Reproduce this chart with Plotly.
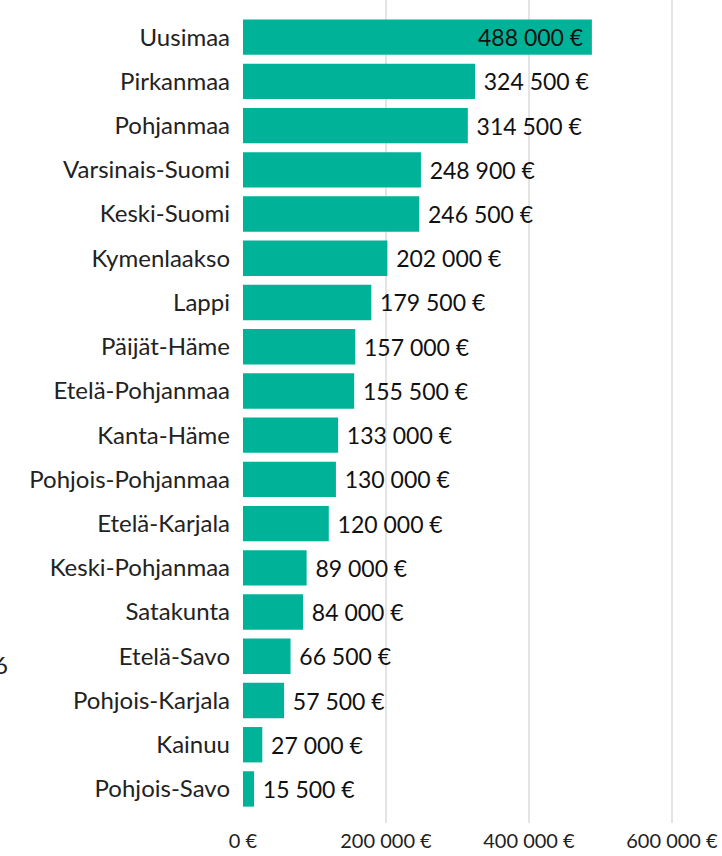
"""Regional amounts, horizontal bar chart."""

import plotly.graph_objects as go

regions = [
    "Uusimaa", "Pirkanmaa", "Pohjanmaa", "Varsinais-Suomi", "Keski-Suomi",
    "Kymenlaakso", "Lappi", "Päijät-Häme", "Etelä-Pohjanmaa", "Kanta-Häme",
    "Pohjois-Pohjanmaa", "Etelä-Karjala", "Keski-Pohjanmaa", "Satakunta",
    "Etelä-Savo", "Pohjois-Karjala", "Kainuu", "Pohjois-Savo",
]
amounts = [
    488000, 324500, 314500, 248900, 246500, 202000, 179500, 157000, 155500,
    133000, 130000, 120000, 89000, 84000, 66500, 57500, 27000, 15500,
]
tick_values = [0, 200000, 400000, 600000]


def eur(v):
    return f"{v:,}".replace(",", " ") + " €"


# first bar gets its label inside, the rest outside with a small gap
gap = "\u2009\u2009"
labels = [eur(amounts[0]) + gap] + [gap + eur(v) for v in amounts[1:]]
positions = ["inside"] + ["outside"] * (len(amounts) - 1)

fig = go.Figure(go.Bar(
    x=amounts,
    y=regions,
    orientation="h",
    width=0.8,
    marker=dict(color="#00b398", line=dict(width=0)),
    text=labels,
    textposition=positions,
    insidetextanchor="end",
    textfont=dict(family="Lato", size=23, color="#111111"),
    cliponaxis=False,
))

fig.update_layout(
    width=722,
    height=856,
    margin=dict(l=243, r=0, t=0, b=33),
    plot_bgcolor="white",
    paper_bgcolor="white",
    showlegend=False,
    font=dict(family="Lato", color="#222222"),
    xaxis=dict(
        range=[0, 670000],
        tickvals=tick_values,
        ticktext=[eur(v) for v in tick_values],
        tickfont=dict(size=20),
        ticklabelstandoff=4,
        showgrid=True,
        gridcolor="#e4e4e4",
        gridwidth=1.5,
        zeroline=False,
        showline=False,
        automargin=False,
        fixedrange=True,
    ),
    yaxis=dict(
        categoryorder="array",
        categoryarray=regions,
        range=[17.77, -0.84],
        tickfont=dict(size=24),
        ticklabelstandoff=12,
        showgrid=False,
        zeroline=False,
        showline=False,
        automargin=False,
        fixedrange=True,
    ),
    annotations=[dict(
        text="6", xref="paper", yref="paper", x=-0.524, y=0.192,
        xanchor="left", yanchor="middle", showarrow=False, font=dict(size=24),
    )],
)

fig.write_html(
    "out.html",
    config={"displayModeBar": False},
    post_script="document.body.style.margin='0px';",
)
